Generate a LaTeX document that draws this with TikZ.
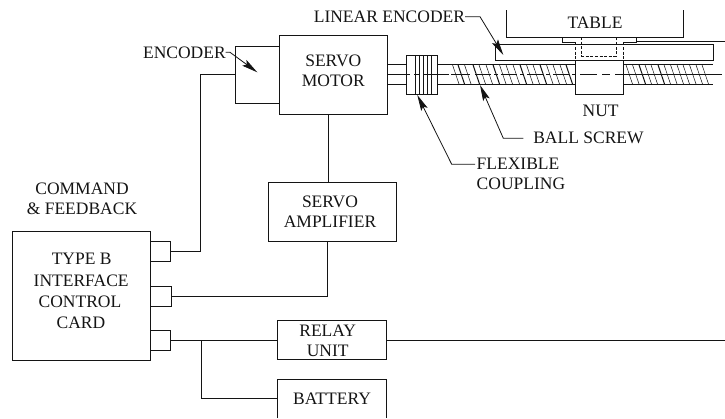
\documentclass[tikz,border=0pt]{standalone}
\usepackage{fontspec}
\setmainfont{Liberation Serif}
\usetikzlibrary{arrows.meta,calc}
\definecolor{ink}{gray}{0.08}
\tikzset{
  every node/.style={inner sep=0pt,outer sep=0pt,font=\fontsize{17.5}{20}\selectfont,text=ink},
  ln/.style={draw=ink,line width=0.9pt},
  box/.style={rectangle,ln},
  txt/.style={align=center},
  dsh/.style={draw=ink,line width=1pt,dash pattern=on 3pt off 1.6pt},
  hatchline/.style={draw=ink,line width=0.5pt},
  hatchbold/.style={draw=ink,line width=1pt},
  centre/.style={draw=ink,line width=0.6pt},
  lead/.style={draw=ink,line width=0.8pt,-{Stealth[length=16pt,width=7pt,inset=3pt]}}
}
\begin{document}
\begin{tikzpicture}[x=1pt,y=-1pt]
\useasboundingbox (0,0) rectangle (725,418);
\clip (0,0) rectangle (725,418);
% control side boxes
\node[box,minimum width=44pt,minimum height=57.3pt] (enc) at (257,74.65) {};
\node[box,fill=white,minimum width=108.3pt,minimum height=79pt] (motor) at (333.2,74.5) {};
\node[box,minimum width=128pt,minimum height=59pt] (amp) at (332.3,212.2) {};
\node[box,minimum width=137.7pt,minimum height=128.6pt] (card) at (81.15,296) {};
\node[box,minimum width=20pt,minimum height=20pt] (c1) at (160,251.7) {};
\node[box,minimum width=21pt,minimum height=19.6pt] (c2) at (160.5,296.5) {};
\node[box,minimum width=20pt,minimum height=20pt] (c3) at (160,340) {};
\node[box,minimum width=108.6pt,minimum height=39.3pt] (relay) at (332,340) {};
\node[minimum width=108.6pt,minimum height=38.8pt] (batt) at (332,398.7) {BATTERY};
\draw[ln] (batt.south west) -- (batt.north west) -- (batt.north east) -- (batt.south east);
% labels
\node[txt] (tmotor) at (333.3,71) {SERVO\\MOTOR};
\node[txt] (tamp) at (330,212) {SERVO\\AMPLIFIER};
\node[txt] (trelay) at (327.7,340.4) {RELAY\\UNIT};
\node[txt] (tcmd) at (82,198.3) {COMMAND\\\& FEEDBACK};
\node (tt1) at (81.7,259) {TYPE B};
\node (tt2) at (81.2,281) {INTERFACE};
\node (tt3) at (80,302) {CONTROL};
\node (tt4) at (81,322.3) {CARD};
\node[anchor=east] (tenc) at (225.7,52.3) {ENCODER};
\node[anchor=east] (tlin) at (465,16.7) {LINEAR ENCODER};
\node (ttable) at (595,22.7) {TABLE};
\node (tnut) at (600.7,111) {NUT};
\node[anchor=west] (tball) at (533.3,138.3) {BALL SCREW};
\node[anchor=west,align=left] (tflex) at (476.7,174.2) {FLEXIBLE\\COUPLING};
% wiring
\coordinate (w1) at (200.7,74.7);
\draw[ln] (enc.west |- w1) -- (w1) |- (c1.east);
\coordinate (w2) at (327,296.5);
\draw[ln] (motor.south -| 328.5,0) -- (amp.north -| 328.5,0);
\draw[ln] (amp.south -| w2) -- (w2) -- (c2.east);
\draw[ln] (c3.east) -- (relay.west);
\coordinate (w3) at (201,340);
\draw[ln] (w3) |- (batt.west);
\draw[ln] (relay.east) -- (725,340);
% mechanics: linear encoder, table, nut
\node[box,minimum width=218.3pt,minimum height=16.4pt] (linear) at (604.15,52.5) {};
\coordinate (tl) at (506,10);
\coordinate (tr) at (683.3,10);
\draw[ln] (tl) -- (506,37) -- (683.3,37) -- (tr);
\draw[ln] (636.7,41) -- (725,41);
\draw[ln] (562.3,37) -- (562.3,42.3) -- (575,42.3);
\draw[ln] (636.7,37) -- (636.7,42.3) -- (623.3,42.3);
\draw[dsh] (575,42.3) -- (575,60.7);
\draw[dsh] (623.3,42.3) -- (623.3,60.7);
\draw[ln] (581.7,37) -- (616,37);
\draw[dsh] (581.7,37) -- (581.7,56) -- (616,56) -- (616,37);
\draw[ln] (575,60.7) -- (575,94) -- (623.3,94) -- (623.3,60.7);
% shaft
\draw[ln] (387.3,64.8) -- (406.7,64.8);
\draw[ln] (387.3,84.3) -- (406.7,84.3);
\draw[ln] (437.3,64.8) -- (575,64.8);
\draw[ln] (437.3,84.3) -- (575,84.3);
\draw[ln] (623.3,64.8) -- (712.7,64.8);
\draw[ln] (623.3,84.3) -- (712.7,84.3);
% hatch of the ball screw
\foreach \x/\s in {452.5/hatchline,458/hatchbold,464.5/hatchline,473/hatchbold,479/hatchline,486/hatchline,493/hatchbold,499.5/hatchline,506/hatchline,513/hatchline,520/hatchbold,526.5/hatchline,533/hatchline,540/hatchbold,546.5/hatchline,553/hatchline,560/hatchline,566/hatchbold,
 626/hatchline,632.5/hatchline,639/hatchbold,645/hatchline,651/hatchline,658/hatchbold,664/hatchline,670.5/hatchline,677/hatchline,683/hatchline,689.5/hatchline,696/hatchline,702/hatchline}
  \draw[\s] (\x,64.8) -- ({\x+6.6},84.3);
% coupling
\node[box,fill=white,minimum width=30.6pt,minimum height=39.3pt] (coup) at (422,74.65) {};
\foreach \x in {415,419,423,427,431}
  \draw[hatchline] (\x,55) -- (\x,94.3);
% centre line
\draw[centre] (387.3,74.3) -- (410,74.3);
\draw[centre] (414,74.3) -- (420,74.3);
\draw[centre] (424,74.3) -- (449,74.3);
\draw[centre] (451,74.3) -- (470,74.3);
\draw[centre,dash pattern=on 16pt off 3pt on 4pt off 3pt] (475,74.3) -- (575,74.3);
\draw[centre] (580,74.3) -- (597,74.3);
\draw[centre] (602,74.3) -- (610,74.3);
\draw[centre] (615,74.3) -- (721.7,74.3);
% leaders
\coordinate (a1) at (230,52.3);
\coordinate (a1t) at (257.3,72.3);
\draw[lead] (tenc.east) -- (a1) -- (a1t);
\coordinate (a2) at (480,16.7);
\coordinate (a2t) at (503.3,55);
\draw[lead] (tlin.east) -- (a2) -- (a2t);
\coordinate (a3) at (451.7,164.3);
\coordinate (a3t) at (417.3,95);
\draw[lead] (475,164.3) -- (a3) -- (a3t);
\coordinate (a4) at (503.3,138.3);
\coordinate (a4t) at (480,85);
\draw[lead] (523.3,138.3) -- (a4) -- (a4t);
\end{tikzpicture}
\end{document}
